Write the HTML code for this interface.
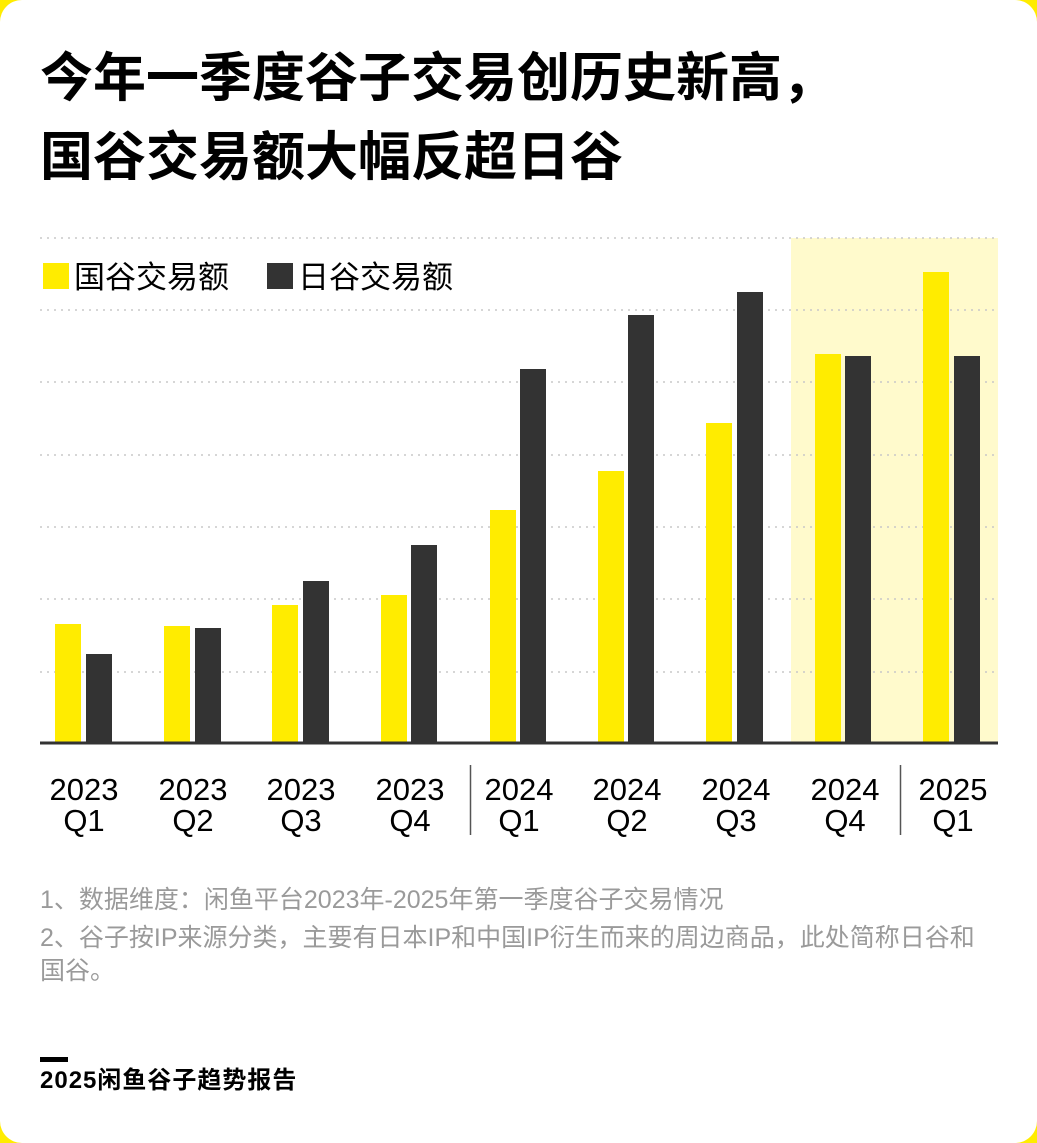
<!DOCTYPE html>
<html><head><meta charset="utf-8">
<style>
html,body{margin:0;padding:0}
body{width:1037px;height:1143px;background:#ffec00;overflow:hidden;font-family:"Liberation Sans","Noto Sans CJK SC",sans-serif}
#w{position:absolute;left:0;top:0;width:1037px;height:1143px;background:#fff;border-radius:22px}
.t{position:absolute;left:40px;font-weight:bold;font-size:53px;color:#000;white-space:nowrap;line-height:1}
.fn{position:absolute;left:40px;font-size:25px;color:#9a9a9a;white-space:nowrap;line-height:1}
</style></head><body><div id="w">
<div class="t" style="top:52px">今年一季度谷子交易创历史新高，</div>
<div class="t" style="top:131px">国谷交易额大幅反超日谷</div>
<svg width="1037" height="1143" style="position:absolute;left:0;top:0" font-family="Liberation Sans, Noto Sans CJK SC, sans-serif">
<rect x="791" y="238" width="207" height="505" fill="#fffacc"/>
<g stroke="#c8c8c8" stroke-width="1.5" stroke-dasharray="2,5">
<line x1="40" y1="238" x2="998" y2="238"/><line x1="40" y1="310" x2="998" y2="310"/>
<line x1="40" y1="382" x2="998" y2="382"/><line x1="40" y1="455" x2="998" y2="455"/>
<line x1="40" y1="527" x2="998" y2="527"/><line x1="40" y1="599" x2="998" y2="599"/>
<line x1="40" y1="672" x2="998" y2="672"/>
</g>
<rect x="43" y="263" width="26" height="26" fill="#ffec00"/>
<text x="74" y="288" font-size="31" fill="#000">国谷交易额</text>
<rect x="267" y="263" width="26" height="26" fill="#333"/>
<text x="298" y="288" font-size="31" fill="#000">日谷交易额</text>
<g fill="#ffec00">
<rect x="55" y="624" width="26" height="119"/><rect x="164" y="626" width="26" height="117"/>
<rect x="272" y="605" width="26" height="138"/><rect x="381" y="595" width="26" height="148"/>
<rect x="490" y="510" width="26" height="233"/><rect x="598" y="471" width="26" height="272"/>
<rect x="706" y="423" width="26" height="320"/><rect x="815" y="354" width="26" height="389"/>
<rect x="923" y="272" width="26" height="471"/>
</g>
<g fill="#333">
<rect x="86" y="654" width="26" height="89"/><rect x="195" y="628" width="26" height="115"/>
<rect x="303" y="581" width="26" height="162"/><rect x="411" y="545" width="26" height="198"/>
<rect x="520" y="369" width="26" height="374"/><rect x="628" y="315" width="26" height="428"/>
<rect x="737" y="292" width="26" height="451"/><rect x="845" y="356" width="26" height="387"/>
<rect x="954" y="356" width="26" height="387"/>
</g>
<line x1="40" y1="743" x2="998" y2="743" stroke="#333" stroke-width="3"/>
<line x1="470.5" y1="765" x2="470.5" y2="835" stroke="#555" stroke-width="1.5"/>
<line x1="900.5" y1="765" x2="900.5" y2="835" stroke="#555" stroke-width="1.5"/>
<g font-size="31" fill="#000" text-anchor="middle">
<text x="84" y="800">2023</text><text x="84" y="831">Q1</text>
<text x="193" y="800">2023</text><text x="193" y="831">Q2</text>
<text x="301" y="800">2023</text><text x="301" y="831">Q3</text>
<text x="410" y="800">2023</text><text x="410" y="831">Q4</text>
<text x="519" y="800">2024</text><text x="519" y="831">Q1</text>
<text x="627" y="800">2024</text><text x="627" y="831">Q2</text>
<text x="736" y="800">2024</text><text x="736" y="831">Q3</text>
<text x="845" y="800">2024</text><text x="845" y="831">Q4</text>
<text x="953" y="800">2025</text><text x="953" y="831">Q1</text>
</g>
<rect x="40" y="1057" width="28" height="5" fill="#000"/>
</svg>
<div class="fn" style="top:888px">1、数据维度：闲鱼平台2023年-2025年第一季度谷子交易情况</div>
<div class="fn" style="top:926px">2、谷子按IP来源分类，主要有日本IP和中国IP衍生而来的周边商品，此处简称日谷和</div>
<div class="fn" style="top:959px">国谷。</div>
<div style="position:absolute;left:40px;top:1069px;font-size:24px;letter-spacing:1px;font-weight:bold;color:#000;line-height:1;white-space:nowrap">2025闲鱼谷子趋势报告</div>
</div></body></html>
